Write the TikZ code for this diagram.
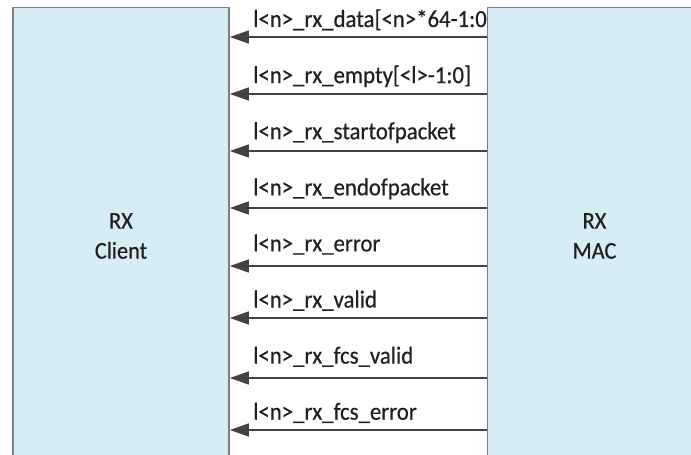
\documentclass[tikz,border=0pt]{standalone}
\usepackage{fontspec}
\setmainfont{Carlito}[FakeStretch=0.93,FakeBold=0.5]
\usetikzlibrary{arrows.meta,positioning}
\definecolor{boxfill}{RGB}{214,237,245}
\definecolor{boxline}{RGB}{125,129,132}
\definecolor{ink}{RGB}{35,31,32}
\begin{document}
\begin{tikzpicture}[x=1pt,y=-1pt,>={Triangle[length=19pt,width=13pt]},
	blk/.style={draw=boxline,line width=1.6pt,fill=boxfill,align=center,text=ink,font=\fontsize{24}{30}\selectfont},
	sig/.style={->,draw=ink!85,line width=1.2pt},
	sigtext/.style={anchor=base west,inner sep=0pt,text=ink,font=\fontsize{24.5}{27}\selectfont}]
	\useasboundingbox (0,0) rectangle (691,455);
	\clip (0,0) rectangle (691,455);

	% client side
	\node[blk,minimum width=216pt,minimum height=457pt] (client) at (121,236) {RX\\Client};

	% signal names and arrows
	\foreach \i/\ya/\t in {0/37/data[<n>*64-1:0],1/94/empty[<l>-1:0],2/151/startofpacket,3/208/endofpacket,
		4/266/error,5/318/valid,6/378/fcs\_valid,7/430/fcs\_error} {
		\node[sigtext] (lbl\i) at (253,27+56.1*\i) {l<n>\_rx\_\t};
		\coordinate (src\i) at (487.5,\ya);
		\draw[sig] (src\i) -- (client.east |- src\i);
	};

	% MAC side
	\node[blk,minimum width=214pt,minimum height=457pt] (mac) at (594.5,236) {RX\\MAC};
\end{tikzpicture}
\end{document}
